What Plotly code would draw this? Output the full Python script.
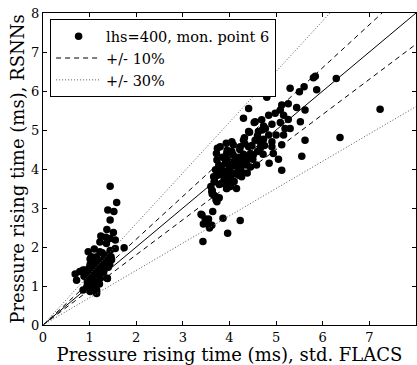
import plotly.graph_objects as go

# Cluster near 1 ms
x1 = [1.44,1.58,1.39,1.52,1.44,1.37,1.51,1.24,1.35,1.44,
      1.55,1.22,1.36,1.74,1.55,1.44,0.97,1.22,1.15,1.01,
      1.31,1.47,1.37,1.12,1.22,1.01,0.90,1.19,1.35,1.43,
      1.12,1.25,1.40,0.79,0.69,1.01,1.23,0.86,0.72,1.08,
      1.18,1.29,1.01,1.08,1.18,0.94,1.04,1.15,1.01,1.38,
      0.86,1.38,1.15,1.29,1.40,1.04,0.88,1.10,1.20,1.30,
      0.95,1.05,1.14,1.26,1.33,0.98,1.07,1.17,1.27,0.92,
      1.03,1.12,1.21,1.46,1.10,1.00]
y1 = [3.56,3.14,2.95,2.91,2.69,2.45,2.37,2.28,2.25,2.22,
      2.18,2.13,2.09,1.98,1.96,1.91,1.88,1.88,1.75,1.69,
      1.71,1.67,1.63,1.64,1.61,1.55,1.41,1.55,1.54,1.56,
      1.47,1.47,1.48,1.37,1.31,1.24,1.20,1.41,1.15,1.41,
      1.37,1.46,1.22,1.15,1.11,0.98,1.03,0.90,0.86,1.19,
      0.90,1.20,0.81,1.66,1.80,1.75,1.25,1.30,1.28,1.35,
      1.10,1.33,1.45,1.58,1.70,1.05,1.60,1.52,1.85,1.32,
      0.95,1.00,1.05,1.75,1.95,1.48]

# Cluster near 4-5 ms, upper part
x2 = [6.29,5.84,5.80,5.30,5.50,5.60,5.87,4.80,7.23,4.41,
      4.30,5.12,5.26,5.09,5.44,5.62,4.84,4.98,5.16,5.26,
      5.52,4.69,4.55,4.73,4.91,5.09,5.19,5.30,4.41,4.62,
      4.77,4.84,5.00,5.16,6.37,5.62,4.55,4.73,4.91,5.12,
      3.80,3.93,4.05,4.23,4.41,4.66,4.91,5.55,3.94,4.08,
      4.30,4.51,4.72,4.94,5.05,3.73,3.91,4.16,4.37,4.58,
      5.12,3.77,4.02,4.23,3.80,4.05,4.26,3.66,4.53,4.43]
y2 = [6.32,6.38,6.34,6.07,5.98,6.11,6.03,5.84,5.53,5.55,
      5.30,5.64,5.67,5.51,5.58,5.51,5.38,5.43,5.38,5.27,
      5.21,5.26,5.21,5.10,5.15,5.19,5.04,5.04,4.96,4.96,
      5.04,4.87,4.87,4.87,4.81,4.74,4.74,4.76,4.70,4.62,
      4.57,4.66,4.70,4.57,4.57,4.53,4.57,4.33,4.40,4.36,
      4.38,4.36,4.38,4.40,4.25,4.23,4.15,4.15,4.19,4.10,
      3.97,4.10,4.10,4.02,3.85,3.85,3.80,3.80,5.19,4.94]

# Cluster near 4 ms, dense middle
x3 = [3.74,3.72,4.30,4.08,3.85,3.95,4.10,4.20,4.35,4.00,
      3.90,4.15,4.25,4.45,3.82,3.98,4.12,4.28,4.50,4.60,
      3.70,3.88,4.02,4.18,4.38,4.48,3.95,4.05,4.22,4.33,
      3.78,3.92,4.10,4.40,4.65,4.75,4.85,4.02,4.15,4.32,
      3.60,3.68,3.85,4.00,4.60,4.70,4.20,4.45]
y3 = [4.53,4.40,4.74,4.62,4.30,4.25,4.20,4.30,4.10,4.00,
      3.95,3.90,3.95,4.05,4.05,4.12,4.08,4.22,4.25,4.45,
      3.98,3.70,3.75,3.85,3.90,4.60,4.48,4.45,4.50,4.65,
      3.60,3.62,3.68,4.30,4.70,4.60,4.15,3.55,3.50,4.80,
      3.55,3.68,3.93,3.95,4.85,5.00,4.12,4.40]

# Cluster near 3.5-4 ms, lower part
x4 = [3.41,3.48,3.55,3.44,3.55,3.62,3.57,3.43,3.64,3.86,
      4.23,3.96,3.62,3.67,3.73,3.76,3.83,3.94,3.94,3.67,
      4.04,3.39,3.51,3.58,3.63,3.63,3.71,3.78,3.69,3.83,
      3.94,3.76,3.90,3.99,4.05,4.19]
y4 = [2.82,2.72,2.72,2.59,2.59,2.56,2.49,2.14,2.91,2.74,
      2.68,2.35,3.42,3.33,3.16,3.25,3.63,3.50,3.67,3.67,
      3.71,2.84,2.65,2.53,3.45,3.36,3.21,3.26,3.80,3.63,
      3.50,3.85,3.85,3.76,3.90,3.93]

xs = x1 + x2 + x3 + x4
ys = y1 + y2 + y3 + y4

axis_max = 8
ticks = [0, 1, 2, 3, 4, 5, 6, 7, 8]
legend_names = ["lhs=400, mon. point 6", "+/- 10%", "+/- 30%"]

font_family = "DejaVu Serif, serif"

fig = go.Figure()
fig.add_trace(go.Scatter(x=xs, y=ys, mode="markers", name=legend_names[0],
                         marker=dict(color="black", size=7.5, line=dict(width=0))))
fig.add_trace(go.Scatter(x=[0, axis_max], y=[0, axis_max], mode="lines",
                         line=dict(color="black", width=1), showlegend=False))
fig.add_trace(go.Scatter(x=[0, axis_max / 1.1], y=[0, axis_max], mode="lines",
                         name=legend_names[1], legendgroup="d",
                         line=dict(color="black", width=1, dash="5px,4px")))
fig.add_trace(go.Scatter(x=[0, axis_max], y=[0, axis_max * 0.9], mode="lines",
                         showlegend=False, legendgroup="d",
                         line=dict(color="black", width=1, dash="5px,4px")))
fig.add_trace(go.Scatter(x=[0, axis_max / 1.3], y=[0, axis_max], mode="lines",
                         name=legend_names[2], legendgroup="t",
                         line=dict(color="#555", width=1, dash="1px,2px")))
fig.add_trace(go.Scatter(x=[0, axis_max], y=[0, axis_max * 0.7], mode="lines",
                         showlegend=False, legendgroup="t",
                         line=dict(color="#555", width=1, dash="1px,2px")))

axis_common = dict(range=[0, axis_max], tickvals=ticks, ticks="inside", ticklen=4,
                   tickcolor="black", mirror="ticks", showline=True, linecolor="black",
                   linewidth=1, showgrid=False, zeroline=False, automargin=False,
                   tickfont=dict(family=font_family, size=13, color="black"))

fig.update_layout(
    width=417, height=365,
    margin=dict(l=43, r=1, t=13, b=40),
    paper_bgcolor="white", plot_bgcolor="white",
    font=dict(family=font_family, color="black"),
    showlegend=True,
    legend=dict(x=0.019, y=0.98, xanchor="left", yanchor="top",
                bordercolor="black", borderwidth=1, bgcolor="white",
                font=dict(family=font_family, size=14.5, color="black"),
                tracegroupgap=0, itemwidth=45),
    xaxis=dict(**axis_common,
               title=dict(text="Pressure rising time (ms), std. FLACS",
                          font=dict(family=font_family, size=18), standoff=1)),
    yaxis=dict(**axis_common,
               title=dict(text="Pressure rising time (ms), RSNNs",
                          font=dict(family=font_family, size=18), standoff=1)),
)

fig.write_html("out.html", config={"displayModeBar": False},
               post_script="document.body.style.margin='0';document.body.style.overflow='hidden';")
